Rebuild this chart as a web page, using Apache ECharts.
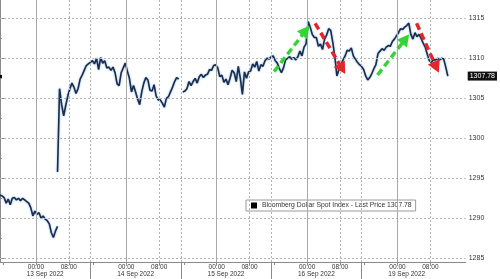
<!DOCTYPE html>
<html><head><meta charset="utf-8">
<script src="https://cdn.jsdelivr.net/npm/echarts@6/dist/echarts.min.js"></script>
<style>html,body{margin:0;padding:0;background:#fff}#c{width:500px;height:279px}</style>
</head><body><div id="c"></div>
<script>
// ---- data ----
const sessionDates = ['13 Sep 2022', '14 Sep 2022', '15 Sep 2022', '16 Sep 2022', '19 Sep 2022'];
const sessionHours = 22;        // chart hours per trading session
const openToMidnight = 8.75;    // session opens 15:15 the evening before
const stepHours = 0.5;          // 30-minute samples
const axisEndHours = 113.35;
const seriesName = 'Bloomberg Dollar Spot Index - Last Price 1307.78';
const lastPrice = 1307.78;

const sep13Pre = [1292.9, 1292.8, 1292.6, 1291.9, 1292.4, 1291.7, 1292.5, 1292.6, 1292.3, 1292.5,
  1292.2, 1292.5, 1292.3, 1292.1, 1291.9, 1291.3, 1290.3, 1290.9, 1290.5, 1290.7,
  1290.0, 1290.3, 1289.9, 1289.7, 1289.3, 1288.2, 1287.6, 1288.4, 1289.0];
const sep13PostStep = 28;
const sep13Post = [1295.8, 1306.2, 1304.2, 1302.8, 1304.1, 1305.3, 1306.2, 1306.9, 1306.4, 1305.6,
  1306.2, 1307.4, 1307.9, 1308.5, 1309.1, 1309.3];
const sep14 = [1309.5, 1309.7, 1309.3, 1310.0, 1308.6, 1310.1, 1309.4, 1309.7, 1308.8, 1308.9,
  1308.5, 1308.9, 1308.2, 1306.8, 1306.6, 1308.2, 1308.8, 1309.4, 1308.4, 1307.5,
  1305.8, 1306.6, 1305.8, 1304.9, 1304.2, 1305.8, 1306.9, 1307.6, 1307.3, 1306.0,
  1305.9, 1306.7, 1305.3, 1304.8, 1304.8, 1304.4, 1303.9, 1305.0, 1305.2, 1305.8,
  1306.4, 1307.1, 1307.6, 1307.4];
const sep15 = [null, 1305.8, 1305.9, 1306.2, 1307.1, 1306.6, 1307.1, 1307.5, 1306.9, 1307.7,
  1308.0, 1307.6, 1307.9, 1308.0, 1308.6, 1308.5, 1309.1, 1309.2, 1308.8, 1307.7,
  1307.9, 1307.0, 1307.4, 1306.7, 1307.5, 1308.5, 1308.2, 1307.1, 1309.0, 1307.5,
  1305.5, 1308.3, 1307.5, 1308.3, 1308.4, 1309.3, 1308.9, 1309.6, 1308.4, 1309.2,
  1309.0, 1309.7, 1310.0, 1309.9];
const sep16 = [1310.2, 1310.3, 1309.7, 1309.4, 1308.7, 1308.2, 1308.8, 1309.8, 1310.0, 1310.2,
  1309.9, 1310.1, 1309.8, 1310.2, 1310.9, 1310.3, 1311.4, 1311.8, 1314.6, 1313.9,
  1313.0, 1312.6, 1312.6, 1311.5, 1311.8, 1311.1, 1312.4, 1312.9, 1313.7, 1313.5,
  1312.0, 1310.2, 1307.8, 1308.6, 1309.2, 1309.8, 1310.3, 1311.0, 1310.9, 1311.3,
  1310.3, 1309.9, 1309.5, 1309.2];
const sep19 = [1309.0, 1308.6, 1307.8, 1307.3, 1307.6, 1308.1, 1308.7, 1309.2, 1310.6, 1310.9,
  1311.2, 1311.0, 1311.4, 1311.6, 1311.5, 1312.1, 1312.4, 1312.8, 1313.2, 1313.7,
  1313.6, 1313.9, 1314.1, 1314.4, 1313.0, 1312.4, 1313.2, 1312.7, 1313.0, 1312.5,
  1311.9, 1311.4, 1310.5, 1309.7, 1309.5, 1309.8, 1309.8, 1310.0, 1309.8, 1310.0,
  1309.9, 1308.9, 1307.78];

const yMin = 1284.54, yMax = 1317.29;
const yTicks = [1285, 1290, 1295, 1300, 1305, 1310, 1315];
const yMinorTicks = [1287.5, 1292.5, 1297.5, 1302.5, 1307.5, 1312.5];
const timeLabels = ['00:00', '08:00'];
const timeLabelHours = [0, 8];
const tickHours = [-8, 0, 8];

// trend arrows: [startHour, startValue, endHour, endValue, colour]
const trendArrows = [
  [66.7, 1308.33, 74.4, 1313.47, '#35d435'],
  [76.7, 1314.38, 83.3, 1308.67, '#e3262b'],
  [91.9, 1307.92, 98.7, 1312.43, '#35d435'],
  [101.4, 1314.38, 106.2, 1308.89, '#e3262b']
];

// ---- build ----
function hourOf(session, step) { return session * sessionHours + step * stepHours; }
const lineData = [];
function pushSeg(session, startStep, vals) {
  vals.forEach((v, k) => lineData.push([hourOf(session, startStep + k), v === null ? '-' : v]));
}
pushSeg(0, 0, sep13Pre);
lineData.push([hourOf(0, sep13PostStep), '-']);
pushSeg(0, sep13PostStep, sep13Post);
pushSeg(1, 0, sep14);
pushSeg(2, 0, sep15);
pushSeg(3, 0, sep16);
pushSeg(4, 0, sep19);

const labelMap = {};
const labelVals = [], midnightVals = [], morningVals = [], smallTicks = [], dateVals = [], dateMap = {};
sessionDates.forEach((d, i) => {
  const mid = i * sessionHours + openToMidnight;
  timeLabelHours.forEach((h, j) => { labelVals.push(mid + h); labelMap[(mid + h).toFixed(2)] = timeLabels[j]; });
  midnightVals.push(mid);
  morningVals.push(mid + 8);
  tickHours.forEach(h => smallTicks.push(mid + h));
  dateVals.push(mid + 2.25);
  dateMap[(mid + 2.25).toFixed(2)] = d;
});
const boundaryVals = [];
for (let i = 1; i < sessionDates.length; i++) boundaryVals.push(i * sessionHours);

const font = 'Liberation Sans';
const axisGrey = '#8a8a8a';
function baseX(extra) {
  return Object.assign({ type: 'value', min: 0, max: axisEndHours, position: 'bottom',
    axisLine: { show: false }, axisTick: { show: false }, axisLabel: { show: false },
    splitLine: { show: false }, minorSplitLine: { show: false } }, extra);
}
function baseY(extra) {
  return Object.assign({ type: 'value', min: yMin, max: yMax, position: 'right',
    axisLine: { show: false }, axisTick: { show: false }, axisLabel: { show: false },
    splitLine: { show: false }, minorSplitLine: { show: false } }, extra);
}
const dotStyle = () => ({ color: '#b4b4b4', type: [2, 2], width: 1 });

const gridLines = []
  .concat(yTicks.map(v => ({ yAxis: v, lineStyle: dotStyle() })))
  .concat(morningVals.concat(boundaryVals).map(v => ({ xAxis: v, lineStyle: dotStyle() })))
  .concat(midnightVals.map(v => ({ xAxis: v, lineStyle: { color: '#a8a8a8', type: 'solid', width: 1 } })));

const chart = echarts.init(document.getElementById('c'), null, { renderer: 'canvas' });
chart.setOption({
  animation: false,
  backgroundColor: '#fff',
  grid: { left: 0, right: 27, top: 0, bottom: 17, containLabel: false },
  legend: {
    data: [{ name: seriesName, icon: 'rect' }],
    left: 246, top: 200,
    padding: [2, 4, 2, 5],
    itemWidth: 6, itemHeight: 6,
    backgroundColor: '#fff',
    borderColor: '#9a9a9a', borderWidth: 1,
    itemStyle: { color: '#000' },
    textStyle: { fontFamily: font, fontSize: 6.8, color: '#333', lineHeight: 7 }
  },
  xAxis: [
    baseX({
      axisLine: { show: true, lineStyle: { color: axisGrey } },
      axisTick: { show: true, customValues: smallTicks, length: 3, lineStyle: { color: axisGrey } },
      axisLabel: { show: true, customValues: labelVals, margin: 2, fontFamily: font, fontSize: 6.5, color: '#333',
        formatter: v => labelMap[v.toFixed(2)] || '' }
    }),
    baseX({
      axisTick: { show: true, customValues: boundaryVals, length: 17, lineStyle: { color: axisGrey } }
    }),
    baseX({
      axisLabel: { show: true, customValues: dateVals, margin: 9, fontFamily: font, fontSize: 6.5, color: '#333',
        formatter: v => dateMap[v.toFixed(2)] || '' }
    })
  ],
  yAxis: [
    baseY({
      axisLine: { show: true, lineStyle: { color: axisGrey } },
      axisTick: { show: true, customValues: yTicks, length: 4, lineStyle: { color: axisGrey } },
      axisLabel: { show: true, customValues: yTicks, margin: 3, fontFamily: font, fontSize: 7, color: '#333',
        formatter: v => String(Math.round(v)) }
    }),
    baseY({
      axisTick: { show: true, customValues: yMinorTicks, length: 2, lineStyle: { color: axisGrey } }
    }),
    baseY({
      axisTick: { show: true, customValues: [lastPrice], length: 2, lineStyle: { color: '#000', width: 3 } },
      axisLabel: { show: true, customValues: [lastPrice], margin: 2, fontFamily: font, fontSize: 7, color: '#fff',
        backgroundColor: '#111', padding: [1, 2, 1, 2], formatter: v => v.toFixed(2) }
    })
  ],
  series: [{
    name: 'grid',
    type: 'line',
    xAxisIndex: 0, yAxisIndex: 0,
    data: [],
    z: 1,
    markLine: {
      silent: true, animation: false, symbol: 'none', label: { show: false },
      data: gridLines
    }
  }, {
    name: seriesName,
    type: 'line',
    xAxisIndex: 0, yAxisIndex: 0,
    data: lineData,
    z: 3,
    showSymbol: false,
    connectNulls: false,
    lineStyle: { color: '#1a2d4a', width: 1.6, shadowColor: 'rgba(70,130,210,0.7)', shadowBlur: 2 },
    itemStyle: { color: '#000' },
    markLine: {
      silent: true,
      animation: false,
      symbol: ['none', 'triangle'],
      symbolSize: [13, 12],
      label: { show: false },
      data: trendArrows.map(a => [
        { coord: [a[0], a[1]], lineStyle: { color: a[4], width: 3.5, type: [7, 4] }, itemStyle: { color: a[4] } },
        { coord: [a[2], a[3]] }
      ])
    }
  }]
});
</script></body></html>
